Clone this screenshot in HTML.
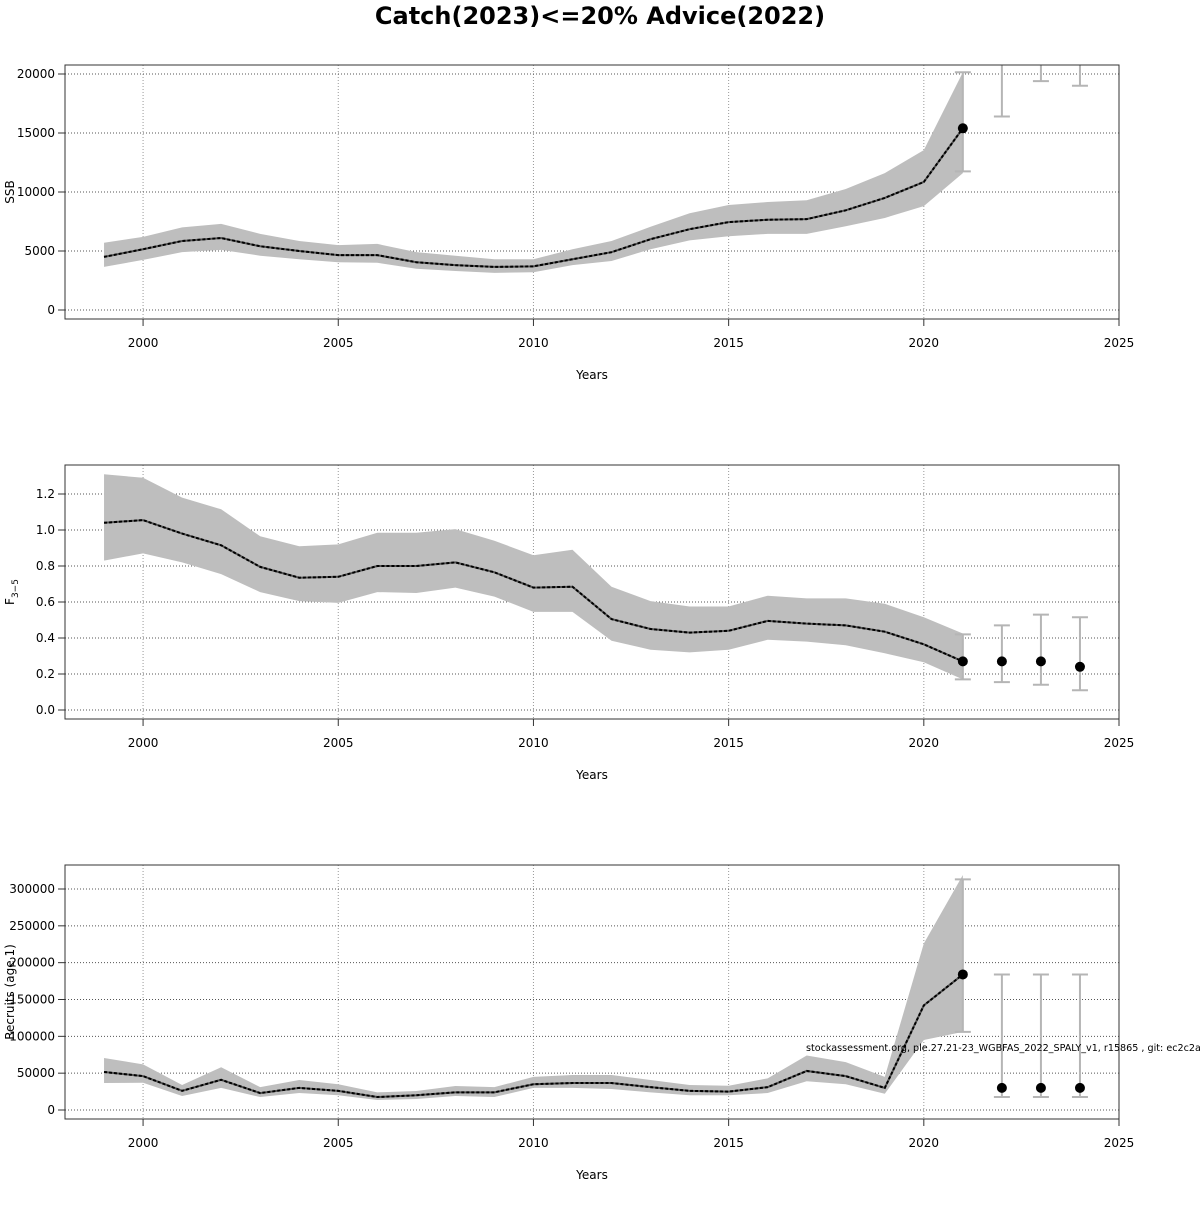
<!DOCTYPE html>
<html><head><meta charset="utf-8"><style>
body{margin:0;background:#fff}
svg text{font-family:"DejaVu Sans","Liberation Sans",sans-serif}
</style></head><body>
<svg id="chart" width="1200" height="1200" viewBox="0 0 1200 1200" xmlns="http://www.w3.org/2000/svg">
<text x="600" y="24" text-anchor="middle" font-size="24" font-weight="bold">Catch(2023)&lt;=20% Advice(2022)</text>
</svg>
<script>
const years=[1999,2000,2001,2002,2003,2004,2005,2006,2007,2008,2009,2010,2011,2012,2013,2014,2015,2016,2017,2018,2019,2020,2021];
const projYears=[2022,2023,2024];
const xTicks=[2000,2005,2010,2015,2020,2025];

const ssb=[4500,5150,5850,6100,5400,5000,4650,4650,4050,3800,3650,3700,4300,4900,6000,6850,7450,7650,7700,8450,9500,10850,15400];
const ssbHi=[5700,6200,7000,7300,6450,5850,5500,5600,4900,4600,4300,4300,5150,5850,7050,8200,8900,9150,9300,10250,11600,13550,20150];
const ssbLo=[3650,4250,4900,5100,4600,4300,4050,4000,3500,3300,3150,3200,3800,4150,5150,5900,6250,6450,6450,7100,7800,8800,11600];
const ssbProj=[23000,26000,26500];
const ssbProjHi=[30000,34000,35000];
const ssbProjLo=[16400,19400,19000];
const ssbLastBar=[11750,20150];
const ssbTicks=[0,5000,10000,15000,20000];

const fbar=[1.04,1.055,0.98,0.915,0.795,0.735,0.74,0.80,0.80,0.82,0.765,0.68,0.685,0.505,0.45,0.43,0.44,0.495,0.48,0.47,0.435,0.365,0.27];
const fHi=[1.31,1.29,1.18,1.115,0.965,0.91,0.92,0.985,0.985,1.005,0.94,0.86,0.89,0.685,0.605,0.575,0.575,0.635,0.62,0.62,0.59,0.515,0.425];
const fLo=[0.83,0.87,0.82,0.755,0.655,0.605,0.595,0.655,0.65,0.68,0.63,0.545,0.545,0.385,0.335,0.32,0.335,0.39,0.38,0.36,0.315,0.265,0.17];
const fProj=[0.27,0.27,0.24];
const fProjHi=[0.47,0.53,0.515];
const fProjLo=[0.155,0.14,0.11];
const fLastBar=[0.17,0.42];
const fTicks=[0.0,0.2,0.4,0.6,0.8,1.0,1.2];

const rec=[51600,46000,26000,41000,23000,30000,26000,17600,20000,24000,24000,35000,36600,36600,31000,26000,25000,31000,53000,46000,30000,142000,184000];
const recHi=[70600,62000,34000,58000,31000,40700,35000,24000,25800,32600,31000,45000,47500,47500,40700,34000,33000,43000,74000,65000,45000,226000,319000];
const recLo=[36600,37000,19000,30000,17600,23000,20000,13600,15000,19000,17600,30000,30000,28500,24000,20000,20000,23000,39000,35000,22000,95000,106000];
const recProj=[30000,30000,30000];
const recProjHi=[184000,184000,184000];
const recProjLo=[17600,17600,17600];
const recLastBar=[106000,313000];
const recTicks=[0,50000,100000,150000,200000,250000,300000];

const svg=document.getElementById('chart');
const NS='http://www.w3.org/2000/svg';
function mk(tag,attrs,parent){const e=document.createElementNS(NS,tag);for(const k in attrs)e.setAttribute(k,attrs[k]);(parent||svg).appendChild(e);return e;}

const X0=65,X1=1119;
function xs(v){return X0+(v-1998)*(X1-X0)/27;}

function panel(id,top,yMin,yMax,pyMin,pyMax,yTicks,fmt,ylab,mid,hi,lo,pMid,pHi,pLo,lastBar){
  const g=mk('g',{});
  
  
  const ys=v=>pyMin+(v-yMin)*(pyMax-pyMin)/(yMax-yMin);
  const clipId='clip-'+id;
  const cp=mk('clipPath',{id:clipId},g);mk('rect',{x:X0,y:top,width:X1-X0,height:254},cp);
  xTicks.forEach(t=>{const l=mk('line',{x1:xs(t),x2:xs(t),y1:top,y2:top+254,stroke:'#999','stroke-dasharray':'1,2'},g);
    });
  yTicks.forEach(t=>{const l=mk('line',{x1:X0,x2:X1,y1:ys(t),y2:ys(t),stroke:'#555','stroke-dasharray':'1,2'},g);
    });
  const cg=mk('g',{'clip-path':'url(#'+clipId+')'},g);
  let pts=years.map((y,i)=>xs(y)+','+ys(hi[i]));
  pts=pts.concat(years.map((y,i)=>xs(y)+','+ys(lo[i])).reverse());
  const band=mk('polygon',{points:pts.join(' '),fill:'#bebebe'},cg);
  
  
  const barYears=[years[years.length-1]].concat(projYears);
  const barLo=[lastBar[0]].concat(pLo), barHi=[lastBar[1]].concat(pHi);
  barYears.forEach((y,i)=>{
    const bx=xs(y);
    const eb=mk('g',{stroke:'#b5b5b5','stroke-width':2},cg);
    
    
    mk('line',{x1:bx,x2:bx,y1:ys(barLo[i]),y2:ys(barHi[i])},eb);
    mk('line',{x1:bx-8,x2:bx+8,y1:ys(barLo[i]),y2:ys(barLo[i])},eb);
    mk('line',{x1:bx-8,x2:bx+8,y1:ys(barHi[i]),y2:ys(barHi[i])},eb);
  });
  const lp=years.map((y,i)=>xs(y)+','+ys(mid[i])).join(' ');
  mk('polyline',{points:lp,fill:'none',stroke:'#555','stroke-width':2},cg);
  const ln=mk('polyline',{points:lp,fill:'none',stroke:'#000','stroke-width':2,'stroke-dasharray':'3,2'},cg);
  
  
  const ptYears=[years[years.length-1]].concat(projYears);
  const ptVals=[mid[mid.length-1]].concat(pMid);
  ptYears.forEach((y,i)=>{const c=mk('circle',{cx:xs(y),cy:ys(ptVals[i]),r:5,fill:'#000'},cg);
    });
  const bx=mk('rect',{x:X0,y:top,width:X1-X0,height:254,fill:'none',stroke:'#333','stroke-width':1},g);
  
  xTicks.forEach(t=>{mk('line',{x1:xs(t),x2:xs(t),y1:top+254,y2:top+261,stroke:'#333'},g);
    const tx=mk('text',{x:xs(t),y:top+282,'text-anchor':'middle','font-size':12},g);tx.textContent=t;
    });
  yTicks.forEach(t=>{mk('line',{x1:X0-7,x2:X0,y1:ys(t),y2:ys(t),stroke:'#333'},g);
    const tx=mk('text',{x:X0-10,y:ys(t)+4,'text-anchor':'end','font-size':12},g);tx.textContent=fmt(t);
    });
  const xl=mk('text',{x:592,y:top+314,'text-anchor':'middle','font-size':12},g);xl.textContent='Years';
  
  const yl=mk('text',{x:0,y:0,'text-anchor':'middle','font-size':12,transform:'translate(14,'+(top+127)+') rotate(-90)'},g);
  
  if(ylab==='F'){yl.textContent='F';const s=mk('tspan',{'font-size':9,dy:4},yl);s.textContent='3\u22125';}
  else yl.textContent=ylab;
  return g;
}
panel('ssb',65,0,20000,310,74,ssbTicks,v=>String(v),'SSB',ssb,ssbHi,ssbLo,ssbProj,ssbProjHi,ssbProjLo,ssbLastBar);
panel('fbar',465,0,1.2,710,494,fTicks,v=>v.toFixed(1),'F',fbar,fHi,fLo,fProj,fProjHi,fProjLo,fLastBar);
panel('recruits',865,0,300000,1110,889,recTicks,v=>String(v),'Recruits (age 1)',rec,recHi,recLo,recProj,recProjHi,recProjLo,recLastBar);
const note=mk('text',{x:806,y:1051,'font-size':9.6});
note.textContent='stockassessment.org, ple.27.21-23_WGBFAS_2022_SPALY_v1, r15865 , git: ec2c2a5';


</script>
</body></html>
